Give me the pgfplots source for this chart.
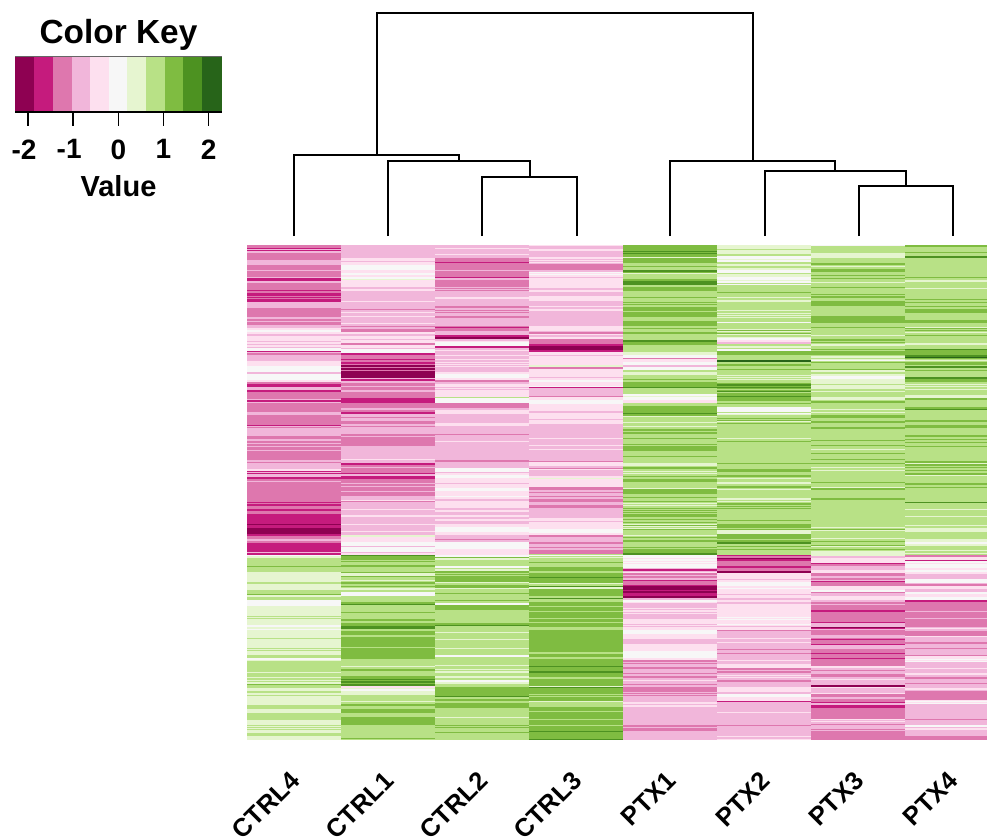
\documentclass[border=0pt]{standalone}
\usepackage{pgfplots}
\pgfplotsset{compat=1.18}
\usepackage{fontspec}
\setmainfont{Liberation Sans}
\pgfplotsset{
  colormap={piyg}{rgb255=(142,1,82) rgb255=(197,27,125) rgb255=(222,119,174) rgb255=(241,182,218) rgb255=(253,224,239) rgb255=(247,247,247) rgb255=(230,245,208) rgb255=(184,225,134) rgb255=(127,188,65) rgb255=(77,146,33) rgb255=(39,100,25)},
  heat/.style={mesh, shader=flat corner, colormap name=piyg, colormap access=direct, point meta=explicit, line width=#1, line cap=butt},
}
\begin{document}
\begin{tikzpicture}
\path[use as bounding box] (0,0) rectangle (987pt,839pt);
\begin{axis}[at={(0pt,0pt)},anchor=south west,scale only axis,width=987pt,height=839pt,
  xmin=0,xmax=987,ymin=0,ymax=839,y dir=reverse,hide axis,clip=true]
% CTRL4
\addplot[heat=94pt] table[x expr=294,y index=0,meta index=1]{
245 2
248 1
249 3
250 1
251 3
253 2
260 3
265 2
270 3
271 2
277 3
278 1
281 3
283 2
290 1
291 2
293 1
296 2
297 1
298 2
299 1
302 3
308 2
317 3
319 2
321 3
322 2
325 3
328 4
330 5
332 4
334 3
336 4
341 3
342 4
344 3
345 4
347 3
348 5
351 1
352 3
353 2
355 3
361 4
366 5
372 3
374 5
380 4
382 2
384 1
387 3
390 1
392 2
399 3
400 1
402 3
403 2
412 3
415 2
425 1
426 3
427 2
428 3
436 2
439 3
441 2
443 3
444 2
446 3
447 2
450 3
451 2
460 3
462 2
463 3
469 4
471 1
472 3
473 1
474 3
477 1
479 2
481 3
482 2
502 1
503 2
504 1
506 2
509 1
511 2
514 1
524 0
525 1
528 0
534 1
536 2
539 3
541 2
543 1
552 3
553 1
555 5
556 6
558 7
566 8
567 7
572 6
582 7
584 6
590 7
594 8
595 6
597 7
600 5
606 6
616 7
617 6
618 7
619 6
625 5
627 6
629 5
630 6
638 7
639 6
648 7
649 6
650 7
651 6
655 7
658 5
660 6
661 7
672 6
673 7
677 6
678 7
680 6
681 7
682 6
684 8
685 7
688 6
691 7
693 6
695 7
696 6
705 7
709 6
713 7
720 6
725 7
726 6
727 7
728 6
729 7
730 6
733 7
736 6
740 6
};
% CTRL1
\addplot[heat=94pt] table[x expr=388,y index=0,meta index=1]{
245 3
258 4
261 3
262 4
265 5
270 4
273 5
275 4
277 5
279 6
280 4
287 3
289 4
291 3
301 4
302 3
309 2
310 3
312 4
313 3
316 4
317 3
323 4
324 3
326 2
327 3
329 2
332 4
334 3
336 4
339 3
340 4
343 2
345 4
348 3
349 5
353 1
355 2
359 1
360 2
362 1
364 2
365 0
367 2
368 0
370 2
371 0
378 3
379 1
381 3
383 2
386 3
387 2
390 3
392 2
398 1
401 1
403 2
408 3
410 2
412 1
414 3
417 2
418 3
421 2
424 3
426 2
427 3
434 2
436 3
437 2
446 3
459 4
460 3
463 1
465 2
467 3
468 2
473 1
474 3
476 1
479 2
483 3
484 2
486 3
487 2
491 3
492 2
496 3
500 4
501 2
502 3
509 4
510 3
515 4
517 3
524 4
525 3
531 4
532 3
535 6
537 4
542 5
546 3
547 5
552 3
553 4
555 9
556 8
560 7
561 8
562 7
565 8
567 7
572 8
573 6
576 8
577 7
580 6
581 7
582 8
584 7
586 8
587 7
588 6
590 7
592 5
596 7
602 8
604 9
605 7
612 8
613 7
619 8
621 7
623 8
626 9
629 7
631 8
635 7
637 8
647 7
648 8
659 7
666 6
667 7
669 8
671 7
676 8
679 9
680 8
681 9
683 8
684 9
686 4
688 6
689 5
691 6
695 7
701 6
702 7
704 8
706 7
709 8
713 7
717 8
725 7
738 8
739 7
740 7
};
% CTRL2
\addplot[heat=94pt] table[x expr=482,y index=0,meta index=1]{
245 3
248 4
249 3
254 4
255 3
258 2
262 1
263 2
270 3
271 2
277 1
278 3
280 2
287 3
288 2
289 3
290 2
291 3
297 4
299 3
306 2
308 3
310 2
311 3
312 2
313 3
316 2
318 3
326 2
327 1
328 2
331 3
335 1
337 0
339 3
341 4
342 5
346 1
348 3
350 4
351 3
355 4
356 3
359 4
360 3
362 4
363 3
364 4
365 3
366 4
367 3
372 4
374 5
378 4
380 2
382 3
384 4
387 3
388 4
389 3
390 4
397 7
398 5
403 2
408 3
410 4
414 3
417 3
423 4
426 3
434 2
435 3
441 4
442 3
460 2
462 3
468 5
472 3
473 4
475 5
478 4
483 3
484 4
488 5
491 4
496 5
497 4
499 3
501 4
508 3
510 4
512 3
515 4
517 3
519 4
521 3
524 4
527 5
532 4
535 3
539 2
540 3
542 5
549 4
555 5
557 8
558 6
560 7
566 5
568 7
569 6
571 8
573 7
574 8
575 7
576 8
582 6
583 7
585 8
588 6
589 7
593 8
594 7
600 8
601 7
603 5
605 8
610 7
623 8
625 9
626 7
632 6
633 7
639 6
640 7
648 6
649 7
655 5
657 7
665 6
666 7
669 6
670 7
671 6
673 7
676 6
678 7
680 5
682 6
684 7
687 8
696 9
697 7
699 8
701 7
703 8
708 7
717 6
718 7
725 8
726 7
727 8
728 7
732 8
733 7
740 7
};
% CTRL3
\addplot[heat=94pt] table[x expr=576,y index=0,meta index=1]{
245 4
246 3
249 4
251 3
257 4
259 3
260 4
261 3
262 4
263 3
264 2
270 3
272 5
273 4
274 5
275 4
277 3
278 4
288 3
290 4
292 3
296 4
301 3
306 4
307 3
309 4
311 3
326 4
331 3
332 2
334 4
335 3
337 4
339 2
344 1
346 0
350 1
352 4
355 3
356 4
365 6
367 2
369 4
377 3
378 4
380 5
382 4
386 5
387 1
388 3
396 2
397 4
400 5
404 4
411 3
413 4
419 3
420 4
424 3
438 4
439 3
445 4
446 3
449 4
450 3
461 2
462 4
466 3
468 2
469 4
470 3
476 4
478 6
479 4
487 2
490 3
492 2
493 3
496 2
497 3
499 2
502 3
505 2
508 3
518 4
521 3
522 4
529 5
533 4
535 2
537 3
542 2
544 3
547 2
548 3
550 2
554 7
555 5
556 7
557 6
558 7
562 8
563 7
567 8
571 7
573 8
577 9
578 8
583 6
584 7
586 9
587 6
589 8
596 7
598 9
599 7
602 8
606 7
607 8
611 7
612 8
618 7
619 8
622 7
623 8
627 7
630 8
652 7
654 8
657 7
659 8
666 9
667 8
671 9
673 8
677 7
679 8
686 6
687 9
688 8
694 7
695 8
696 7
697 8
701 6
702 7
707 8
711 7
712 8
719 7
720 8
725 7
726 8
731 9
732 8
739 9
740 9
};
% PTX1
\addplot[heat=94pt] table[x expr=670,y index=0,meta index=1]{
245 8
251 9
252 8
253 9
254 8
257 6
258 8
263 7
266 8
267 7
270 9
272 8
273 6
274 7
279 8
281 9
285 7
287 8
291 7
297 8
298 7
302 8
303 7
304 8
305 7
307 8
311 7
312 8
317 7
321 8
326 7
328 8
329 7
332 8
334 7
340 9
342 8
345 7
352 6
355 5
358 2
359 4
362 5
365 3
367 5
370 7
372 6
375 7
379 8
380 7
382 8
387 9
388 7
394 5
396 6
397 5
400 4
403 7
406 8
413 9
414 8
416 6
417 7
422 6
423 7
426 6
427 7
429 8
431 7
432 8
434 7
438 8
439 7
444 8
445 7
446 8
451 7
456 8
457 7
463 6
466 7
467 8
469 7
471 6
472 7
473 6
474 7
476 8
477 7
479 8
482 7
488 6
489 8
494 7
497 8
498 7
501 8
502 7
503 6
504 7
505 6
506 7
508 8
509 7
510 8
511 7
512 8
513 7
514 8
517 7
519 8
520 7
522 8
523 7
524 6
525 8
526 6
527 7
528 6
529 8
530 7
535 6
536 7
537 8
538 7
540 8
542 7
547 8
548 7
549 8
553 9
555 5
558 4
559 5
561 4
562 5
563 4
564 5
568 3
569 1
571 3
572 4
573 2
575 3
576 2
578 3
580 1
581 2
585 1
586 0
590 1
591 0
593 1
596 0
598 3
600 5
602 4
603 3
608 4
609 3
610 4
612 3
613 4
614 3
619 4
624 3
625 4
626 3
627 4
630 5
634 4
639 3
644 4
651 5
658 4
660 2
662 3
663 2
664 3
667 2
669 3
673 2
674 3
676 2
678 3
680 4
681 3
684 2
685 3
687 2
692 3
693 2
694 3
695 2
696 3
702 4
704 3
705 4
707 3
725 2
727 3
728 2
731 3
740 3
};
% PTX2
\addplot[heat=94pt] table[x expr=764,y index=0,meta index=1]{
245 6
249 7
250 6
254 7
256 5
259 6
260 5
262 7
264 6
266 7
268 6
270 5
273 7
274 6
277 5
280 6
281 5
283 7
284 5
285 7
292 8
293 7
297 6
298 7
300 6
302 7
310 6
311 7
313 6
314 7
315 6
316 7
317 6
318 7
322 5
323 7
329 6
330 8
331 6
332 7
333 8
334 6
335 7
337 6
338 5
340 4
342 3
344 7
346 6
348 7
349 5
351 8
355 7
360 10
362 7
364 8
366 7
369 8
370 7
375 6
376 7
377 6
378 7
379 6
380 7
383 8
384 9
386 8
387 9
388 8
389 7
390 8
391 9
392 7
393 8
396 9
397 8
400 8
401 7
403 8
404 7
407 5
412 7
413 5
414 6
415 7
418 8
419 7
420 8
421 6
422 7
423 8
424 7
438 6
439 7
441 8
442 7
463 8
464 7
469 8
472 7
475 8
477 7
478 6
479 7
482 6
484 7
486 8
488 7
489 6
490 7
498 6
500 7
501 6
502 7
503 8
505 7
506 8
507 7
508 8
509 7
520 8
521 7
524 8
528 7
529 8
530 6
534 8
539 7
540 8
542 9
544 7
546 8
547 7
549 8
550 7
551 7
555 1
556 2
558 0
559 1
561 2
566 1
568 2
571 0
573 4
579 3
580 4
582 5
586 4
588 5
589 4
594 3
595 4
598 3
600 4
602 3
604 4
617 5
618 4
619 5
620 4
624 5
625 4
626 3
627 4
630 2
631 3
638 4
639 3
642 4
643 3
649 2
650 3
653 2
654 3
660 4
661 3
664 4
668 2
670 3
671 2
673 3
675 4
676 3
677 4
678 3
680 2
682 3
687 4
692 3
694 5
697 4
701 1
702 3
712 4
713 3
725 2
726 3
736 4
737 3
739 4
740 4
};
% PTX3
\addplot[heat=94pt] table[x expr=858,y index=0,meta index=1]{
245 5
246 7
253 6
258 7
263 8
265 7
266 6
267 7
269 8
272 7
275 8
276 7
278 8
279 7
282 6
283 7
287 8
288 7
294 8
295 7
296 8
298 7
301 8
306 7
316 8
323 7
327 8
328 7
335 6
336 7
339 8
341 7
342 8
343 7
344 6
346 7
349 8
350 7
351 8
355 7
356 6
358 7
359 6
360 5
361 7
362 8
363 7
369 8
370 6
372 7
374 6
376 5
379 6
384 7
385 6
389 7
391 6
392 7
397 6
400 7
401 8
403 7
409 6
410 7
412 6
413 7
415 8
418 7
421 8
423 7
427 8
429 7
440 8
441 7
445 8
446 7
449 6
450 7
453 8
454 7
459 8
460 7
463 8
464 7
467 6
468 7
470 6
471 7
482 8
483 7
487 6
488 8
490 7
498 8
500 7
527 6
528 7
529 8
530 6
531 7
538 6
539 7
541 8
542 7
545 8
546 6
547 7
549 8
550 7
551 6
556 3
558 4
563 1
564 2
566 3
570 4
573 2
576 3
578 2
580 3
581 1
582 2
586 4
590 5
592 2
593 3
596 4
600 3
602 2
604 3
605 2
610 1
612 2
622 1
623 3
627 0
628 1
629 3
630 2
635 3
638 2
639 1
640 2
644 1
645 3
649 2
653 1
654 2
658 1
659 2
666 4
668 3
670 2
671 3
674 2
677 3
679 4
680 3
685 0
687 4
688 3
693 4
694 2
697 3
699 2
702 1
703 3
705 1
708 2
719 4
720 3
721 4
722 3
724 2
725 3
729 2
730 3
731 2
740 2
};
% PTX4
\addplot[heat=94pt] table[x expr=952,y index=0,meta index=1]{
245 8
247 7
252 8
253 7
256 9
258 7
277 8
278 7
280 6
282 7
288 6
289 7
299 8
300 7
302 8
303 7
306 8
307 7
309 8
313 7
320 8
323 7
327 6
328 8
329 7
330 8
331 7
332 6
333 7
335 8
336 7
343 6
345 7
349 9
350 8
355 9
357 10
358 8
359 7
360 6
361 7
362 8
365 7
366 9
368 7
370 8
371 7
377 9
379 8
382 7
384 6
385 7
386 6
387 7
389 6
390 7
395 6
398 8
400 7
407 8
409 9
410 7
420 8
422 7
425 8
428 7
435 8
437 7
439 8
440 7
442 8
443 7
446 8
447 7
461 8
463 6
464 8
466 7
467 8
468 7
470 8
471 7
473 8
475 6
476 7
483 8
485 7
487 8
488 7
502 9
503 7
509 6
510 7
516 6
517 7
525 6
526 7
528 6
532 7
539 6
542 5
544 6
546 7
550 6
551 7
553 6
554 7
555 2
557 4
560 1
561 5
563 4
564 5
568 4
570 5
572 4
574 3
579 5
583 3
584 2
586 4
589 3
592 5
594 4
597 5
600 1
602 2
611 3
612 2
618 3
619 2
627 3
628 4
629 3
631 2
636 4
637 3
642 2
644 3
648 2
649 3
655 2
656 4
659 5
660 4
661 5
662 3
668 4
669 3
673 4
675 3
677 2
679 3
683 2
684 3
688 4
690 3
691 2
700 4
701 5
702 4
703 5
704 3
719 2
720 3
725 5
727 3
728 4
730 3
736 2
740 2
};
% dendrogram
\addplot[black,line width=1.5pt,line cap=butt] coordinates {(294,236)(294,155)(459,155)(459,161)};
\addplot[black,line width=1.5pt] coordinates {(388,236)(388,161)(530,161)(530,177)};
\addplot[black,line width=1.5pt] coordinates {(482,236)(482,177)(577,177)(577,236)};
\addplot[black,line width=1.5pt] coordinates {(377,155)(377,13)(753,13)(753,161)};
\addplot[black,line width=1.5pt] coordinates {(670,236)(670,161)(835,161)(835,171)};
\addplot[black,line width=1.5pt] coordinates {(765,236)(765,171)(906,171)(906,186)};
\addplot[black,line width=1.5pt] coordinates {(859,236)(859,186)(953,186)(953,236)};
% sample labels
\begingroup
\def\lab#1#2{\node[rotate=45,anchor=east,inner sep=0pt,font=\fontsize{25.5}{28}\selectfont\bfseries] at (axis cs:#1,776.5) {#2};}
\lab{295}{CTRL4}\lab{389}{CTRL1}\lab{483}{CTRL2}\lab{577}{CTRL3}
\lab{671}{PTX1}\lab{765}{PTX2}\lab{859}{PTX3}\lab{953}{PTX4}
\endgroup
\end{axis}
% colour key
\begin{axis}[at={(15pt,727pt)},anchor=south west,scale only axis,width=207pt,height=56pt,
  xmin=-2.287,xmax=2.296,ymin=0,ymax=1,
  axis x line*=bottom,axis y line=none,axis on top,
  x axis line style={line width=1.5pt,-},
  xtick={-2,-1,0,1,2},
  xticklabels={\hspace*{-8pt}-2,\hspace*{-8pt}-1,0,1,2},
  major tick length=14pt,
  every tick/.style={black,line width=1.5pt},
  major tick style={black,line width=1.5pt},
  tick align=outside,
  xticklabel style={font=\fontsize{28}{30}\selectfont\bfseries,yshift=-10pt},
  xlabel={Value},
  xlabel style={font=\fontsize{29}{31}\selectfont\bfseries,yshift=-9pt},
  title={Color Key},
  title style={font=\fontsize{33.4}{36}\selectfont\bfseries,yshift=-4pt},
  clip=true]
\addplot[heat=56pt] table[x index=0,y expr=0.5,meta index=1]{
-2.287 0
-1.866 1
-1.446 2
-1.025 3
-0.627 4
-0.206 5
0.193 6
0.613 7
1.034 8
1.432 9
1.853 10
2.296 10
};
\addplot[gray!80!black,line width=0.8pt] coordinates {(-2.287,1)(2.296,1)};
\end{axis}
\end{tikzpicture}
\end{document}
